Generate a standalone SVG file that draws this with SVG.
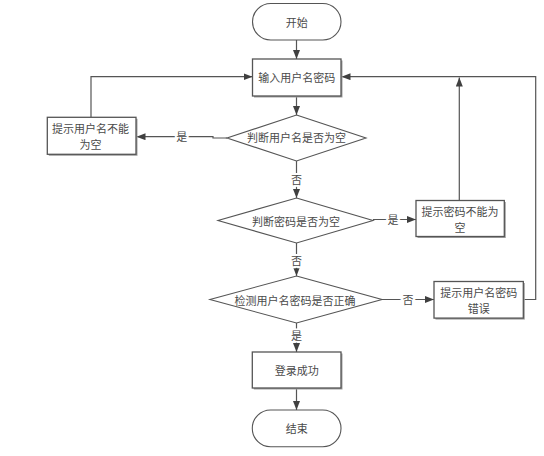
<svg xmlns="http://www.w3.org/2000/svg" width="544" height="456" viewBox="0 0 544 456">
<defs>
<marker id="ah" markerUnits="userSpaceOnUse" markerWidth="10" markerHeight="8" refX="9" refY="3.5" orient="auto">
<path d="M0,0 L9,3.5 L0,7 z" fill="#404040"/>
</marker>
</defs>
<style>
.sh{fill:#a0a0a0;stroke:none}
.box{fill:#fff;stroke:#555;stroke-width:1.3}
.term{fill:#fff;stroke:#555;stroke-width:1.1}
.dia{fill:#fff;stroke:#555;stroke-width:1.1}
.t{font-family:"Noto Sans CJK SC","Liberation Sans",sans-serif;font-size:11px;fill:#4a4a4a;text-anchor:middle;dominant-baseline:central}
.lbl{font-family:"Noto Sans CJK SC","Liberation Sans",sans-serif;font-size:11px;fill:#4a4a4a;text-anchor:middle;dominant-baseline:central;stroke:#fff;stroke-width:4;paint-order:stroke}
.c{fill:none;stroke:#555;stroke-width:1.2}
.ca{fill:none;stroke:#555;stroke-width:1.2;marker-end:url(#ah)}
</style>
<rect width="544" height="456" fill="#fff"/>
<g id="connectors">
<line class="ca" x1="296.5" y1="40" x2="296.5" y2="59"/>
<line class="ca" x1="296.5" y1="96" x2="296.5" y2="115"/>
<polyline class="ca" points="227,138 213,138 213,136.7 136.5,136.7"/>
<polyline class="ca" points="91,117 91,76.7 252.5,76.7"/>
<line class="ca" x1="296.5" y1="161" x2="296.5" y2="198"/>
<line class="ca" x1="373" y1="219.5" x2="416" y2="219.5"/>
<line class="ca" x1="459.3" y1="200.5" x2="459.3" y2="77.5"/>
<line class="ca" x1="296.5" y1="243" x2="296.5" y2="276"/>
<line class="ca" x1="382" y1="299.5" x2="434" y2="299.5"/>
<polyline class="ca" points="523.5,299.5 535.7,299.5 535.7,76.7 341.5,76.7"/>
<line class="ca" x1="296.5" y1="323" x2="296.5" y2="352"/>
<line class="ca" x1="296.5" y1="388.5" x2="296.5" y2="410"/>
<text class="lbl" x="181.7" y="136">是</text>
<text class="lbl" x="296.5" y="179">否</text>
<text class="lbl" x="393" y="219">是</text>
<text class="lbl" x="296.5" y="260">否</text>
<text class="lbl" x="408" y="299">否</text>
<text class="lbl" x="296.5" y="335">是</text>
</g>
<g id="start">
<rect class="term" x="252.5" y="3.5" width="88.5" height="36.5" rx="18.25"/>
<text class="t" x="296.7" y="22">开始</text>
</g>
<g id="input">
<rect class="sh" x="254" y="60.5" width="88.5" height="37"/>
<rect class="box" x="252.5" y="59" width="88.5" height="37"/>
<text class="t" x="296.7" y="77.3">输入用户名密码</text>
</g>
<g id="check-user">
<polygon class="dia" points="296.5,115 366,138 296.5,161 227,138"/>
<text class="t" x="296.5" y="137">判断用户名是否为空</text>
</g>
<g id="user-empty">
<rect class="sh" x="48.8" y="118.8" width="88.7" height="37"/>
<rect class="box" x="47.3" y="117.3" width="88.7" height="37"/>
<text class="t" x="90.6" y="127.8">提示用户名不能</text>
<text class="t" x="90.6" y="143.8">为空</text>
</g>
<g id="check-pass">
<polygon class="dia" points="296.5,198 373,220.5 296.5,243 218,220.5"/>
<text class="t" x="296" y="220.5">判断密码是否为空</text>
</g>
<g id="pass-empty">
<rect class="sh" x="417.5" y="202" width="88.3" height="36"/>
<rect class="box" x="416" y="200.5" width="88.3" height="36"/>
<text class="t" x="460" y="210.6">提示密码不能为</text>
<text class="t" x="460" y="226.6">空</text>
</g>
<g id="check-both">
<polygon class="dia" points="296.5,276 382,299.5 296.5,323 210,299.5"/>
<text class="t" x="295" y="299.5">检测用户名密码是否正确</text>
</g>
<g id="wrong">
<rect class="sh" x="435.5" y="283" width="89.3" height="36.6"/>
<rect class="box" x="434" y="281.5" width="89.3" height="36.6"/>
<text class="t" x="478.7" y="291.8">提示用户名密码</text>
<text class="t" x="478.7" y="307.8">错误</text>
</g>
<g id="success">
<rect class="sh" x="253.8" y="353.5" width="88.7" height="36"/>
<rect class="box" x="252.3" y="352" width="88.7" height="36"/>
<text class="t" x="296.7" y="370">登录成功</text>
</g>
<g id="end">
<rect class="term" x="252.3" y="410" width="88.7" height="36.7" rx="18.3"/>
<text class="t" x="296.7" y="428">结束</text>
</g>
</svg>
